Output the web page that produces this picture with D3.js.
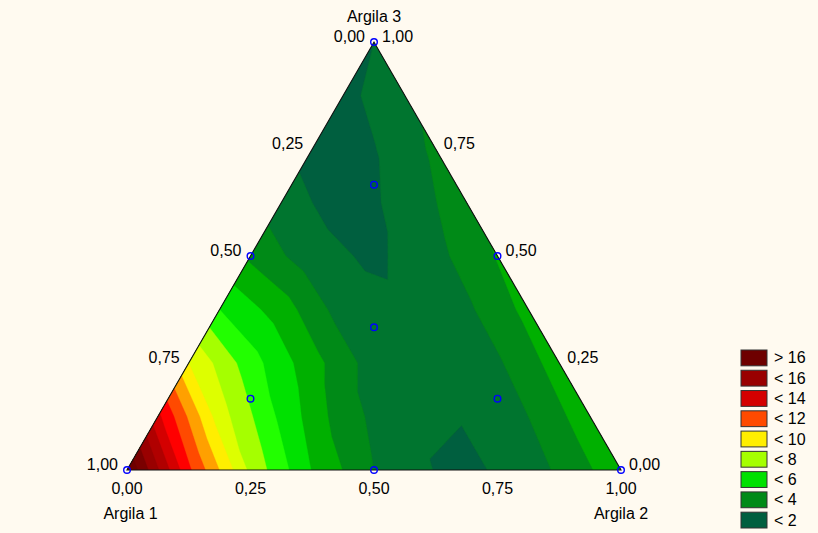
<!DOCTYPE html>
<html><head><meta charset="utf-8">
<script src="https://cdn.jsdelivr.net/npm/d3@7"></script>
<style>
html,body{margin:0;padding:0;background:#fffaf0;}
svg{display:block;}
text{font-family:"Liberation Sans",Arial,sans-serif;font-size:16px;fill:#000;}
</style></head><body>
<svg id="chart" width="818" height="533"></svg>
<script>
// Response on a {3,8} simplex lattice.
// Each row is a fixed Argila 3 fraction (k/8); entries run over Argila 2 fraction (j/8).
const rowA3_0 = [18.0, 12.2, 7.75, 4.95, 3.0, 1.95, 2.01, 3.15, 4.7];
const rowA3_1 = [13.25, 8.45, 5.75, 3.43, 2.2, 2.01, 3.0, 4.6];
const rowA3_2 = [9.0, 6.42, 4.37, 2.5, 2.3, 2.85, 4.45];
const rowA3_3 = [6.0, 4.5, 2.5, 2.25, 2.8, 4.3];
const rowA3_4 = [3.8, 2.4, 1.8, 2.69, 4.07];
const rowA3_5 = [2.4, 1.6, 2.25, 3.7];
const rowA3_6 = [1.7, 1.95, 3.2];
const rowA3_7 = [1.7, 2.75];
const rowA3_8 = [2.0];

// Design points (simplex centroid + axial points)
const designA1 = [1, 0, 0, 0.5, 0.5, 0, 1/3, 2/3, 1/6, 1/6];
const designA2 = [0, 1, 0, 0.5, 0, 0.5, 1/3, 1/6, 2/3, 1/6];
const designA3 = [0, 0, 1, 0, 0.5, 0.5, 1/3, 1/6, 1/6, 2/3];

const tickValues = [0, 0.25, 0.5, 0.75, 1];
const axisNames = ["Argila 1", "Argila 2", "Argila 3"];

const contourLevels = [1,2,3,4,5,6,7,8,9,10,11,12,13,14,15,16,17];
const legendLabels = ["> 16", "< 16", "< 14", "< 12", "< 10", "< 8", "< 6", "< 4", "< 2"];

// ---- styles ----
const legendColors = ["#6e0000","#990000","#d40000","#ff4a00","#ffee00","#a5ff00","#00e100","#008a17","#005f3f"];
const baseColor = "#005f3f";
const bandColors = ["#005f3f","#00752f","#008a17","#00b000","#00e100","#22ff00","#a5ff00","#ddff00",
                    "#ffee00","#ffa000","#ff4a00","#ff0000","#d40000","#b00000","#990000","#7a0000","#6e0000"];

const lattice = [rowA3_0,rowA3_1,rowA3_2,rowA3_3,rowA3_4,rowA3_5,rowA3_6,rowA3_7,rowA3_8];
const N = lattice.length - 1;

const svg = d3.select("#chart");

// ternary scales
const xS = d3.scaleLinear().domain([0, 1]).range([127, 621]);
const yS = d3.scaleLinear().domain([0, 1]).range([470, 42]);
const proj = (a1, a2, a3) => [xS(a2 + a3 / 2), yS(a3)];
const fmt = d3.formatLocale({decimal: ",", thousands: ".", grouping: [3], currency: ["", ""]}).format(".2f");

const V = (j, k) => lattice[k][j];
function valueAt(a2, a3) {
  let a = a2 * N, b = a3 * N;
  let j0 = Math.min(Math.floor(a), N - 1), k0 = Math.min(Math.floor(b), N - 1);
  if (j0 + k0 > N - 1) { if (j0 > 0) j0 -= 1; else k0 -= 1; }
  const fa = a - j0, fb = b - k0;
  if (fa + fb <= 1) {
    return V(j0, k0) * (1 - fa - fb) + V(j0 + 1, k0) * fa + V(j0, k0 + 1) * fb;
  }
  return V(j0 + 1, k0 + 1) * (fa + fb - 1) + V(j0, k0 + 1) * (1 - fa) + V(j0 + 1, k0) * (1 - fb);
}

// grid in pixel space
const gx0 = 115, gy0 = 30, gw = 520, gh = 450;
const grid = new Float64Array(gw * gh);
for (let gy = 0; gy < gh; gy++) {
  for (let gx = 0; gx < gw; gx++) {
    const px = gx0 + gx + 0.5, py = gy0 + gy + 0.5;
    let a3 = yS.invert(py);
    let a2 = xS.invert(px) - a3 / 2;
    let a1 = 1 - a2 - a3;
    a1 = Math.max(0, a1); a2 = Math.max(0, a2); a3 = Math.max(0, a3);
    const s = a1 + a2 + a3;
    a2 /= s; a3 /= s;
    grid[gy * gw + gx] = valueAt(a2, a3);
  }
}

const verts = [proj(1,0,0), proj(0,1,0), proj(0,0,1)];
const triPts = verts.map(p => p.join(",")).join(" ");
svg.append("defs").append("clipPath").attr("id", "tri").append("polygon").attr("points", triPts);

const g = svg.append("g").attr("clip-path", "url(#tri)");
g.append("polygon").attr("points", triPts).attr("fill", baseColor);

const contours = d3.contours().size([gw, gh]).thresholds(contourLevels)(grid);
const path = d3.geoPath(d3.geoIdentity().translate([gx0, gy0]));
g.selectAll("path.band").data(contours).join("path")
  .attr("class", "band")
  .attr("d", path)
  .attr("fill", (d, i) => bandColors[i])
  .attr("stroke", (d, i) => bandColors[i])
  .attr("stroke-width", 0.4);

// triangle outline
svg.append("polygon").attr("points", triPts)
  .attr("fill", "none").attr("stroke", "#111").attr("stroke-width", 1.1);

// left edge: Argila 1 fraction
tickValues.forEach(v => {
  const p = proj(v, 0, 1 - v);
  svg.append("text").attr("x", p[0] - 9).attr("y", p[1] - 0.5).attr("text-anchor", "end").text(fmt(v));
});
// right edge: Argila 3 fraction
tickValues.forEach(v => {
  const p = proj(0, 1 - v, v);
  svg.append("text").attr("x", p[0] + 8).attr("y", p[1] - 0.5).attr("text-anchor", "start").text(fmt(v));
});
// bottom edge: Argila 2 fraction
tickValues.forEach(v => {
  const p = proj(1 - v, v, 0);
  svg.append("text").attr("x", p[0]).attr("y", p[1] + 23.5).attr("text-anchor", "middle").text(fmt(v));
});
// axis names
const pA1 = proj(1,0,0), pA2 = proj(0,1,0), pA3 = proj(0,0,1);
svg.append("text").attr("x", pA1[0] + 3.5).attr("y", pA1[1] + 48.5).attr("text-anchor", "middle").text(axisNames[0]);
svg.append("text").attr("x", pA2[0]).attr("y", pA2[1] + 48.5).attr("text-anchor", "middle").text(axisNames[1]);
svg.append("text").attr("x", pA3[0]).attr("y", pA3[1] - 20.5).attr("text-anchor", "middle").text(axisNames[2]);

// design points
svg.selectAll("circle.dp").data(designA1.map((a, i) => [a, designA2[i], designA3[i]])).join("circle")
  .attr("class", "dp")
  .attr("cx", d => proj(d[0], d[1], d[2])[0])
  .attr("cy", d => proj(d[0], d[1], d[2])[1])
  .attr("r", 3.3).attr("fill", "none").attr("stroke", "#0000ff").attr("stroke-width", 1.4);

// legend
const lg = svg.append("g");
const ly = d3.scaleBand().domain(legendLabels).range([350, 528]).paddingInner(0.22);
lg.selectAll("rect").data(legendLabels).join("rect")
  .attr("x", 741).attr("y", d => ly(d)).attr("width", 26).attr("height", ly.bandwidth())
  .attr("fill", (d, i) => legendColors[i]).attr("stroke", "#333").attr("stroke-width", 1);
lg.selectAll("text").data(legendLabels).join("text")
  .attr("x", 774).attr("y", d => ly(d) + ly.bandwidth() / 2 + 5.5).text(d => d);
</script>
</body></html>
